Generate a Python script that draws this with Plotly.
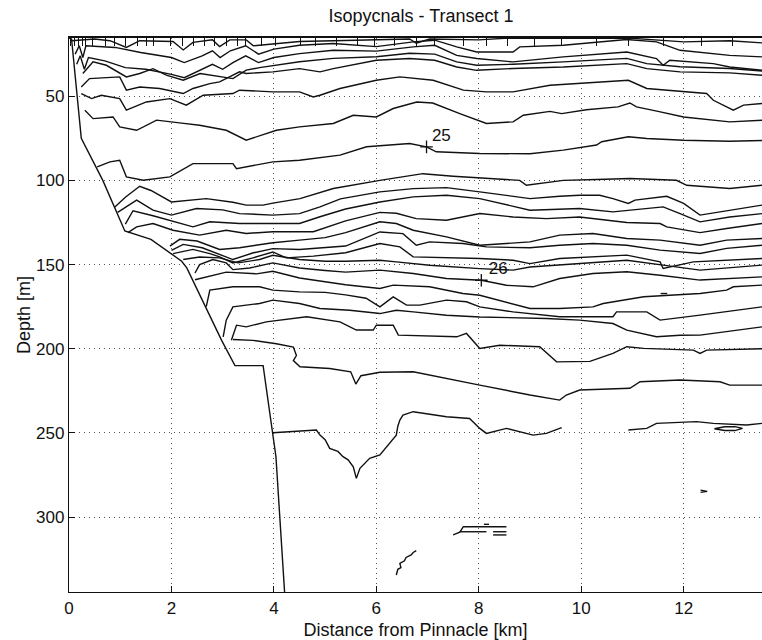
import plotly.graph_objects as go

# CTD station positions along the transect (km), marked on the top edge
stations_km = [0.03, 0.11, 0.19, 0.26, 0.33, 0.46, 0.72, 0.89, 1.11, 1.33, 1.51, 1.65,
               1.98, 2.21, 2.43, 2.65, 2.85, 3.07, 3.28, 3.45, 3.76, 4.04, 4.51, 4.82,
               5.23, 5.63, 5.97, 6.36, 6.78, 7.14, 7.70, 8.15, 8.57, 9.09, 9.62, 10.30,
               10.92, 11.60, 12.35, 12.96]

# sea-floor profile (distance km, depth m)
bottom = [(0.0, 15.4), (0.05, 16), (0.24, 75), (0.66, 100), (1.09, 130), (1.6, 135),
          (2.2, 148), (2.3, 152), (2.98, 195), (3.24, 210), (3.79, 210), (3.98, 250),
          (4.04, 264), (4.21, 345)]

# isopycnals, shallow to deep: (distance km, depth m)
iso_01 = [(0.05, 17), (0.5, 16), (0.8, 17), (1.12, 21), (1.38, 17), (2.03, 17.5), (2.23, 22.5),
          (2.42, 18), (2.8, 16.5), (2.94, 20.5), (3.14, 16.5), (3.46, 16.5), (3.6, 20), (3.8, 19.5),
          (4.5, 17.5), (5.16, 17), (6.07, 16.5), (6.65, 16), (6.78, 18.5), (7.04, 16), (8.0, 16.5),
          (8.5, 15.6), (11.0, 15.6), (11.47, 16.5), (12.0, 17.7), (12.9, 17), (13.53, 18.3)]
iso_02 = [(0.12, 25), (0.2, 20), (0.27, 27), (0.33, 20), (0.9, 21), (1.4, 24), (2.0, 27),
          (2.25, 30), (2.6, 26), (2.8, 23), (2.95, 27), (3.15, 23), (3.45, 20), (3.7, 25), (4.0, 22),
          (4.5, 19.7), (5.16, 18.7), (6.0, 20.5), (6.72, 17.7), (7.14, 16.7), (7.57, 20.7),
          (7.96, 23.7), (8.67, 23.7), (8.8, 20.7), (9.65, 19.7), (10.89, 16.3), (11.47, 17.7),
          (11.93, 22.7), (12.9, 25.7), (13.53, 26.6)]
iso_03 = [(0.15, 31), (0.22, 26), (0.3, 34), (0.38, 27), (0.7, 29), (1.1, 33), (1.5, 34),
          (2.0, 37), (2.25, 39), (2.6, 34), (2.8, 31), (3.0, 34), (3.2, 30), (3.45, 26), (3.7, 30),
          (4.0, 27), (4.5, 24.7), (5.16, 22.7), (6.0, 23.2), (6.72, 20.7), (7.14, 19.7),
          (7.57, 25.7), (7.96, 27.6), (8.67, 29.6), (9.65, 26.6), (10.89, 23.7), (11.47, 27.6),
          (11.6, 31.6), (11.73, 28.6), (12.58, 30.6), (12.9, 32.6), (13.53, 34.6)]
iso_04 = [(0.27, 36.5), (0.47, 29.6), (0.73, 31.6), (1.12, 38.5), (1.38, 36.5), (1.64, 33.6),
          (1.9, 37.5), (2.23, 40.5), (2.56, 36.5), (3.01, 38.5), (3.2, 39.5), (3.46, 34.5),
          (3.72, 33), (4.5, 29.5), (5.16, 27.5), (6.0, 26.5), (6.65, 24.5), (7.14, 25),
          (7.57, 29.6), (7.96, 31.6), (8.67, 31), (9.65, 29.6), (10.89, 27.5), (11.28, 30.6),
          (11.93, 32.5), (12.9, 33.5), (13.53, 35)]
iso_05 = [(0.24, 44.5), (0.4, 39.5), (0.99, 38.5), (1.12, 46.4), (1.38, 44.5), (1.77, 45.4),
          (2.23, 48.4), (2.42, 45.4), (2.75, 42.5), (2.94, 41.5), (3.33, 35.5), (3.46, 36.5),
          (3.98, 35.5), (4.5, 33.6), (4.9, 35.5), (5.16, 33.6), (6.0, 28.6), (6.65, 27.6),
          (7.14, 28.6), (7.57, 32.6), (7.96, 34.6), (8.67, 33.5), (9.65, 32.6), (10.89, 30.6),
          (11.28, 33.6), (11.93, 35.5), (12.9, 36.1), (13.53, 37.5)]
iso_06 = [(0.24, 48.4), (0.44, 51.4), (0.63, 49.4), (0.99, 51.4), (1.12, 58.3), (1.51, 53.4),
          (1.97, 51.4), (2.29, 55.3), (2.62, 49.4), (3.2, 48.4), (3.33, 46.4), (3.98, 47.4),
          (4.5, 47.4), (4.77, 50.4), (4.9, 49.4), (5.29, 45.4), (6.0, 40.5), (6.46, 38.5),
          (7.11, 40.5), (7.7, 46.4), (8.15, 47.4), (8.67, 47.4), (9.39, 43.5), (9.97, 42.5),
          (10.92, 40.5), (11.28, 45.4), (12.0, 47.4), (12.45, 48.4), (12.58, 52.4), (12.97, 58.3),
          (13.17, 55.3), (13.53, 54.3)]
iso_07 = [(0.31, 58.3), (0.47, 63.3), (0.86, 62.3), (0.99, 68.2), (1.32, 70.2), (1.71, 64.2),
          (2.2, 66), (2.55, 67.2), (3.07, 70.2), (3.46, 76.1), (4.05, 70.2), (4.5, 68.2),
          (5.16, 66.2), (5.55, 61.3), (6.0, 62.3), (6.33, 57.3), (6.79, 53.4), (7.1, 54),
          (7.63, 60.3), (8.15, 66.2), (8.67, 65.2), (8.87, 61.3), (9.39, 59), (9.62, 60.3),
          (10.1, 58), (10.72, 56.3), (10.95, 54), (11.08, 56.3), (11.5, 59), (12.0, 62.3),
          (12.9, 65.2), (13.53, 64.3)]
iso_08 = [(0.55, 92), (0.8, 89), (0.99, 88), (1.12, 97.9), (1.45, 99.9), (1.97, 97.9),
          (2.42, 90), (3.2, 90), (3.27, 93), (3.98, 89), (4.5, 88), (5.29, 85), (5.81, 80),
          (6.3, 79), (6.65, 78.1), (6.98, 80.1), (7.17, 83), (8.02, 84), (9.0, 84.2),
          (9.65, 82), (10.3, 79), (10.4, 77), (10.92, 74.1), (11.28, 75.1), (12.0, 76.1),
          (12.9, 76.7), (13.53, 76.3)]
iso_09 = [(0.89, 116), (1.1, 110), (1.38, 103.5), (1.6, 106), (2.0, 112.8), (2.68, 110.8),
          (3.2, 113), (3.46, 114.7), (3.79, 114.7), (3.98, 113.5), (4.51, 110.8), (5.16, 104.8),
          (6.07, 100), (6.91, 96), (7.5, 97.5), (8.02, 98.5), (8.8, 100), (8.93, 102.9),
          (9.65, 100), (10.3, 99.5), (10.95, 98.9), (11.86, 99.9), (12.06, 102.9), (12.9, 104.8),
          (13.53, 102.9)]
iso_10 = [(0.95, 119), (1.32, 111.7), (1.64, 117.7), (2.0, 120.6), (2.49, 116.7), (3.0, 117.5),
          (3.33, 119.7), (3.98, 120.6), (4.5, 119.7), (4.9, 115.7), (5.3, 111), (6.07, 106.8),
          (6.72, 104.9), (7.37, 104.3), (8.02, 106.8), (9.0, 110.8), (9.58, 109.4), (9.97, 108.8),
          (10.36, 108.8), (10.62, 110.8), (10.92, 113.7), (11.05, 111.7), (11.67, 109.4),
          (12.0, 113.7), (12.32, 120.6), (12.51, 119.7), (13.53, 114.7)]
iso_11 = [(1.1, 126), (1.25, 118), (1.64, 121), (2.0, 124), (2.42, 127.6), (2.75, 124.6),
          (3.33, 125.6), (3.98, 125.6), (4.5, 125.6), (4.9, 121.6), (5.4, 117), (6.07, 112.8),
          (6.72, 109.8), (7.37, 108.8), (8.02, 110.8), (9.0, 117.7), (9.97, 116.7), (10.62, 118.7),
          (11.0, 117.7), (11.6, 115.7), (11.93, 119.7), (12.32, 124.6), (12.9, 121.7),
          (13.53, 119.7)]
iso_12 = [(1.15, 131), (1.32, 127.6), (1.64, 125.6), (2.03, 129.6), (2.55, 132.5), (3.07, 129.6),
          (3.46, 131.5), (3.98, 130.5), (4.77, 130.5), (5.4, 124), (6.07, 119), (6.39, 119.5),
          (6.78, 122.7), (7.37, 123.7), (8.02, 119.7), (8.67, 121.7), (9.32, 122.7), (9.97, 121.7),
          (10.89, 125), (11.54, 125.6), (11.67, 127.6), (12.32, 131), (12.84, 128.6),
          (13.53, 125.6)]
iso_13 = [(1.97, 139), (2.16, 135), (2.5, 136), (2.94, 141), (3.33, 140), (3.98, 137),
          (4.5, 135.5), (5.0, 134), (5.4, 131), (6.07, 124.6), (6.39, 125.6), (6.72, 129.6),
          (7.37, 133.5), (8.02, 138.5), (9.0, 136.5), (9.58, 132.5), (10.23, 131.5),
          (10.89, 134.5), (11.54, 135.5), (12.32, 138.5), (12.84, 135.5), (13.53, 134.5)]
iso_14 = [(2.0, 141.5), (2.23, 138), (2.6, 140), (2.94, 144), (3.2, 147), (3.6, 143),
          (3.98, 140.5), (4.5, 141), (5.0, 140), (5.4, 139), (6.07, 130.6), (6.52, 131.6),
          (6.78, 138.5), (7.04, 136.5), (7.69, 137.5), (8.15, 139.5), (9.0, 140), (9.58, 138.5),
          (10.23, 137.5), (10.89, 138.5), (11.54, 141.4), (12.32, 143.4), (12.84, 140.4),
          (13.53, 138.5)]
iso_15 = [(2.03, 143.5), (2.42, 141), (2.75, 143.5), (2.94, 145.4), (3.2, 149), (3.59, 146),
          (3.98, 142.5), (4.24, 146), (4.77, 145), (5.4, 143), (6.07, 137.5), (6.46, 139.5),
          (6.72, 145.4), (8.02, 146.4), (8.67, 147.4), (9.0, 149.4), (9.58, 146.4), (10.89, 144.4),
          (11.54, 148.4), (11.6, 152.3), (12.19, 148.4), (13.53, 146.4)]
iso_16 = [(2.23, 147), (2.55, 145.5), (2.94, 146), (3.3, 149), (3.72, 147), (3.98, 144.5),
          (4.5, 147), (5.0, 148), (5.4, 148), (6.07, 147.4), (6.39, 148.4), (7.04, 150.4),
          (8.02, 152.4), (8.67, 153.3), (9.0, 151.4), (9.58, 150.3), (10.89, 147.4), (11.6, 150.3),
          (12.32, 153.3), (13.53, 150.3)]
iso_17 = [(2.46, 155), (2.55, 150), (2.81, 147), (3.07, 149), (3.2, 153), (3.53, 152),
          (3.98, 149), (4.5, 152), (5.0, 153.5), (5.4, 154.5), (6.07, 153.3), (6.72, 155.3),
          (7.37, 158.3), (8.05, 159.3), (8.54, 162.3), (9.06, 163.2), (9.58, 158.3), (10.23, 155.3),
          (10.89, 154.3), (11.54, 156.3), (12.32, 159.2), (12.84, 158.3), (13.53, 157.3)]
iso_18 = [(2.46, 159), (2.68, 157.5), (3.07, 154.5), (3.66, 155.5), (3.98, 154), (4.5, 158),
          (5.0, 160), (5.4, 162), (6.07, 164.2), (6.33, 162.2), (7.04, 163.2), (7.69, 167.2),
          (8.02, 168.2), (9.0, 176.1), (9.58, 176.1), (10.23, 175.1), (10.43, 173.1),
          (11.22, 169.1), (12.32, 167.2), (12.84, 165.2), (12.97, 163.2), (13.53, 162.2)]
iso_19 = [(2.68, 175), (2.75, 165.2), (3.2, 163.2), (3.72, 163.2), (3.98, 165.2), (4.5, 166.2),
          (5.0, 166.5), (5.4, 168), (5.8, 170), (6.07, 175.1), (6.33, 169.2), (6.59, 174.1),
          (6.85, 174.1), (7.37, 171.1), (7.76, 172.1), (8.02, 175.1), (8.67, 178.1), (9.58, 181),
          (10.62, 181), (10.69, 178.1), (11.28, 178.1), (11.54, 183), (12.32, 180), (13.53, 175.1)]
iso_20 = [(3.01, 193), (3.07, 183), (3.2, 175.1), (3.72, 173.1), (3.98, 171.1), (4.5, 173.1),
          (4.9, 176.1), (5.48, 177.1), (6.07, 179.1), (6.39, 177.1), (6.72, 178.1), (7.37, 180.1),
          (8.02, 181.1), (9.32, 182), (9.97, 183), (10.62, 185), (10.89, 188.9), (11.47, 192.9),
          (11.93, 192), (12.32, 191.9), (13.53, 187)]
iso_21 = [(3.17, 195), (3.27, 186), (3.46, 187), (3.85, 184), (4.64, 181), (5.29, 184),
          (5.61, 188.9), (5.94, 188.9), (6.0, 186), (6.33, 186), (6.43, 191.9), (7.57, 192.9),
          (7.76, 190.9), (8.02, 199.8), (8.41, 197.9), (9.19, 198.8), (9.52, 207.8), (10.17, 207.5),
          (10.62, 202.8), (10.89, 198.8), (11.22, 199.8), (12.19, 200.8), (12.32, 202.8),
          (12.45, 200.8), (13.53, 200)]
iso_22 = [(3.2, 194.5), (3.59, 195), (4.05, 197), (4.38, 199), (4.44, 204), (4.38, 207),
          (4.51, 210.7), (5.09, 211.7), (5.5, 213.7), (5.6, 221), (5.7, 216), (6.07, 214),
          (6.72, 213.7), (7.24, 216.7), (7.7, 219.6), (8.02, 221.6), (9.0, 227.5), (9.58, 230.5),
          (9.71, 227.5), (9.97, 224.5), (10.95, 223.5), (11.15, 219.6), (11.93, 218.6),
          (12.71, 219.6), (12.9, 221.6), (13.53, 221.6)]
iso_23a = [(3.98, 249.9), (4.83, 248.3), (4.9, 251.3), (5.0, 254), (5.09, 259.2), (5.16, 260.2),
           (5.25, 261), (5.35, 264.1), (5.45, 266), (5.55, 270.1), (5.61, 277), (5.68, 271),
           (5.78, 268), (5.87, 265.1), (6.07, 263.1), (6.2, 258.2), (6.3, 255), (6.39, 251.3),
           (6.42, 246), (6.46, 242.4), (6.52, 239.4), (6.72, 237.4), (7.37, 240.4), (7.82, 241.4),
           (8.02, 247.3), (8.15, 250.3), (8.54, 247.3), (8.8, 249.3), (9.06, 251.3), (9.32, 250.3),
           (9.62, 246.9)]
iso_23b = [(10.92, 248.3), (11.28, 247.3), (11.47, 244.3), (12.25, 243.3), (12.58, 244.3),
           (13.23, 245.3), (13.53, 244.3)]
iso_23c = [(12.6, 247.5), (12.8, 246.3), (13.0, 246.3), (13.15, 247.3), (13.0, 248.6),
           (12.8, 248.6), (12.6, 247.5)]

# small isolated contour fragments
frag_a = [(11.55, 167.2), (11.68, 167.2)]
frag_b = [(12.33, 284.0), (12.46, 284.7), (12.33, 285.3)]
frag_c = [(7.5, 310.6), (7.63, 309.0), (7.7, 305.7), (8.54, 305.7)]
frag_d = [(7.63, 308.7), (8.15, 308.7)]
frag_e = [(8.28, 308.7), (8.54, 308.7)]
frag_f = [(8.28, 310.6), (8.54, 310.6)]
frag_g = [(8.1, 304.3), (8.2, 304.3)]
frag_h = [(6.39, 334.4), (6.42, 331), (6.48, 330), (6.46, 327.5), (6.55, 326), (6.58, 324),
          (6.68, 322.5), (6.72, 321), (6.78, 319.9)]

# contour level labels
label_text = ["25", "26"]
label_km = [7.27, 8.38]
label_m = [74.0, 153.3]
cross_km = [6.98, 8.05]
cross_m = [80.1, 159.3]

x_ticks = [0, 2, 4, 6, 8, 10, 12]
y_ticks = [50, 100, 150, 200, 250, 300]
x_range = [0, 13.53]
y_range = [344.5, 15.4]

FONT = "Liberation Sans, Arial, Helvetica, sans-serif"
INK = "#111111"

curves = [bottom, iso_01, iso_02, iso_03, iso_04, iso_05, iso_06, iso_07, iso_08, iso_09,
          iso_10, iso_11, iso_12, iso_13, iso_14, iso_15, iso_16, iso_17, iso_18, iso_19,
          iso_20, iso_21, iso_22, iso_23a, iso_23b, iso_23c,
          frag_a, frag_b, frag_c, frag_d, frag_e, frag_f, frag_g, frag_h]

fig = go.Figure()
for c in curves:
    fig.add_trace(go.Scatter(
        x=[p[0] for p in c], y=[p[1] for p in c], mode="lines",
        line=dict(color=INK, width=1.4), hoverinfo="skip", showlegend=False))

fig.add_trace(go.Scatter(
    x=cross_km, y=cross_m, mode="markers",
    marker=dict(symbol="cross-thin", size=9, line=dict(color=INK, width=1.3)),
    hoverinfo="skip", showlegend=False))
fig.add_trace(go.Scatter(
    x=label_km, y=label_m, mode="text", text=label_text,
    textfont=dict(family=FONT, size=17, color=INK),
    hoverinfo="skip", showlegend=False))

# invisible trace bound to the top axis so it renders the station ticks
fig.add_trace(go.Scatter(x=[x_range[0]], y=[y_range[0]], xaxis="x2", mode="lines",
                         line=dict(width=0), hoverinfo="skip", showlegend=False))

fig.update_layout(
    width=762, height=640,
    margin=dict(l=69, r=0, t=38, b=48),
    paper_bgcolor="white", plot_bgcolor="white",
    font=dict(family=FONT, size=18, color=INK),
    title=dict(text="Isopycnals - Transect 1", x=421 / 762, xanchor="center",
               y=1 - 16 / 640, yanchor="middle", font=dict(size=18)),
    xaxis=dict(range=x_range, tickvals=x_ticks, ticks="inside", ticklen=6, tickwidth=1.2,
               tickcolor=INK, showline=True, linecolor=INK, linewidth=1.4,
               showgrid=True, gridcolor="#555555", griddash="1px,4px", gridwidth=1.2,
               zeroline=False, tickfont=dict(size=17),
               title=dict(text="Distance from Pinnacle [km]", standoff=6,
                          font=dict(size=18))),
    xaxis2=dict(range=x_range, overlaying="x", side="top", tickvals=stations_km,
                ticks="inside", ticklen=8, tickwidth=1.2, tickcolor=INK,
                showline=True, linecolor=INK, linewidth=1.6, showticklabels=False,
                showgrid=False, zeroline=False),
    yaxis=dict(range=y_range, tickvals=y_ticks, ticks="inside", ticklen=6, tickwidth=1.2,
               tickcolor=INK, showline=True, linecolor=INK, linewidth=1.4,
               showgrid=True, gridcolor="#555555", griddash="1px,4px", gridwidth=1.2,
               zeroline=False, tickfont=dict(size=17),
               title=dict(text="Depth [m]", standoff=0, font=dict(size=18))),
)

fig.write_html("out.html")
